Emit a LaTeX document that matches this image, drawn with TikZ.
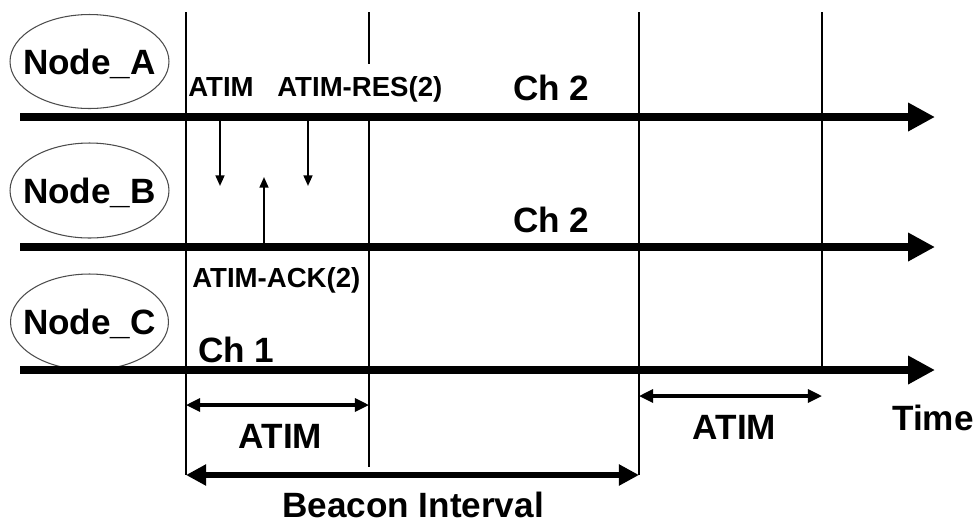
\documentclass[tikz,border=0pt]{standalone}
\usepackage{fontspec}
\setmainfont{Liberation Sans}
\usetikzlibrary{arrows.meta}
\tikzset{
  biglbl/.style={font=\bfseries\fontsize{20}{24}\selectfont, inner sep=0},
  lbl/.style={font=\bfseries\fontsize{15.7}{19}\selectfont, inner sep=0},
  nodename/.style={biglbl, text depth=0pt},
  ring/.style={draw=black!70, line width=0.6pt},
  lane/.style={line width=4.5pt, -{Triangle[length=15.3pt,width=15.3pt]}},
  msg/.style={line width=1.1pt, -{Triangle[length=6pt,width=5pt]}},
  guide/.style={line width=0.7pt},
  atimspan/.style={line width=1.8pt, {Triangle[length=8pt,width=7.4pt]}-{Triangle[length=8pt,width=7.4pt]}},
  beaconspan/.style={line width=3pt, {Triangle[length=11.5pt,width=11.5pt]}-{Triangle[length=11.5pt,width=11.5pt]}},
}
\begin{document}
\begin{tikzpicture}[x=0.02cm,y=-0.02cm]
\useasboundingbox (0,0) rectangle (978,522);

% time marks
\coordinate (t1top) at (186,12);
\coordinate (t1bot) at (186,475);
\coordinate (t2top) at (369,12);
\coordinate (t2gap) at (369,64);
\coordinate (t2mid) at (369,117);
\coordinate (t2bot) at (369,467);
\coordinate (t3top) at (639,12);
\coordinate (t3bot) at (639,475);
\coordinate (t4top) at (822,12);
\coordinate (t4bot) at (822,370);
\draw[guide](t1top) -- (t1bot);
\draw[guide](t2top) -- (t2gap);
\draw[guide](t2mid) -- (t2bot);
\draw[guide](t3top) -- (t3bot);
\draw[guide](t4top) -- (t4bot);

% nodes
\node[nodename] (nA) at (89.5,61.5){Node\_A};
\node[nodename] (nB) at (89.5,190.5){Node\_B};
\node[nodename] (nC) at (89.5,322){Node\_C};
\draw[ring] (nA.center) ellipse [x radius=1.59cm, y radius=0.94cm];
\draw[ring] (nB.center) ellipse [x radius=1.59cm, y radius=0.95cm];
\draw[ring] (nC.center) ellipse [x radius=1.58cm, y radius=0.96cm];

% channels
\coordinate (laneA0) at (20,117);
\coordinate (laneA1) at (935,117);
\coordinate (laneB0) at (20,247);
\coordinate (laneB1) at (935,247);
\coordinate (laneC0) at (20,370);
\coordinate (laneC1) at (935,370);
\draw[lane](laneA0) -- (laneA1);
\draw[lane](laneB0) -- (laneB1);
\draw[lane](laneC0) -- (laneC1);
\node[biglbl, anchor=base west] (chA) at (513,100){Ch 2};
\node[biglbl, anchor=base west] (chB) at (513,232){Ch 2};
\node[biglbl, anchor=base west] (chC) at (198,362){Ch 1};

% frames
\node[lbl, anchor=base west] (atim) at (188,96){ATIM};
\node[lbl, anchor=base west] (atimres) at (277,96){ATIM-RES(2)};
\node[lbl, anchor=base west] (atimack) at (192,287){ATIM-ACK(2)};
\coordinate (m1a) at (220,121);
\coordinate (m1b) at (220,186);
\coordinate (m2a) at (264,243);
\coordinate (m2b) at (264,177);
\coordinate (m3a) at (308,121);
\coordinate (m3b) at (308,186);
\draw[msg](m1a) -- (m1b);
\draw[msg](m2a) -- (m2b);
\draw[msg](m3a) -- (m3b);

% windows
\coordinate (w1a) at (186,405);
\coordinate (w1b) at (369,405);
\coordinate (w2a) at (639,396);
\coordinate (w2b) at (822,396);
\coordinate (bi0) at (186,475);
\coordinate (bi1) at (639,475);
\draw[atimspan](w1a) -- (w1b);
\draw[atimspan](w2a) -- (w2b);
\draw[beaconspan](bi0) -- (bi1);
\node[biglbl, anchor=base] (win1) at (280.5,448){ATIM};
\node[biglbl, anchor=base] (win2) at (734.5,439){ATIM};
\node[biglbl, anchor=base] (beacon) at (413,517){Beacon Interval};
\node[biglbl, anchor=base west] (time) at (892,430){Time};

\end{tikzpicture}
\end{document}
